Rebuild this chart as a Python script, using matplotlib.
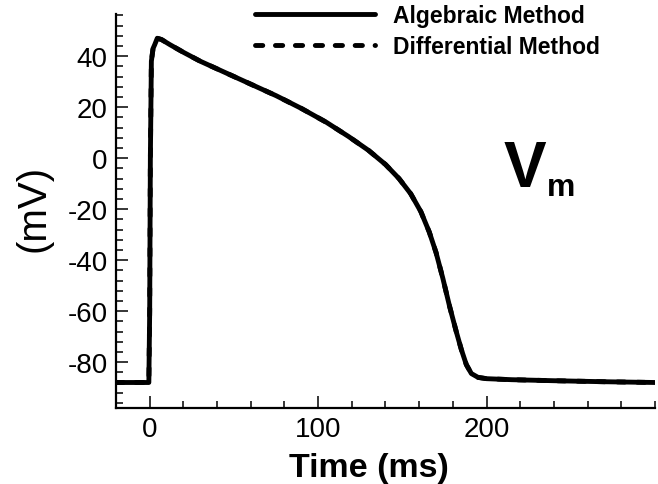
import numpy as np
from matplotlib import pyplot as plt
from matplotlib.ticker import MultipleLocator

# values
time_alg = [-20, -0.5, 0.0, 0.4, 1.0, 2.0, 3.0, 4.5, 7, 12, 20, 30, 45, 60, 75, 90, 105, 118, 130, 140,
            148, 155, 161, 166, 170, 174, 178, 182, 185, 188, 191, 195, 200, 215, 240, 270, 300]
vm_alg = [-88, -88, -60, 0, 38, 43, 44.5, 47, 46.5, 44.5, 41.5, 38, 33.5, 29, 24.5, 19.5, 14, 8.5, 3, -2.5,
          -8, -14, -21, -29, -37, -47, -58, -68, -75, -81, -84.5, -86, -86.5, -86.9, -87.3, -87.7, -88]
time_diff = [-20, -0.5, 0.0, 0.4, 1.0, 2.0, 3.0, 4.5, 7, 12, 20, 30, 45, 60, 75, 90, 105, 118, 130, 140,
             148, 155, 161, 166, 170, 174, 178, 182, 185, 188, 191, 195, 200, 215, 240, 270, 300]
vm_diff = [-88, -88, -60, 0, 38, 43, 44.5, 47, 46.5, 44.5, 41.5, 38, 33.5, 29, 24.5, 19.5, 14, 8.5, 3, -2.5,
           -8, -14, -21, -29, -37, -47, -58, -68, -75, -81, -84.5, -86, -86.5, -86.9, -87.3, -87.7, -88]

x_ticks = [0, 100, 200]
y_ticks = [-80, -60, -40, -20, 0, 20, 40]

plt.rcParams["font.family"] = ["Liberation Sans", "DejaVu Sans"]
plt.rcParams["axes.unicode_minus"] = False

fig = plt.figure(figsize=(6.58, 4.85), dpi=100)
ax = fig.add_axes([0.1763, 0.1567, 0.8191, 0.8123])

ax.plot(time_alg, vm_alg, color="black", linewidth=3.5, solid_joinstyle="round",
        solid_capstyle="round", label="Algebraic Method")
ax.plot(time_diff, vm_diff, color="black", linewidth=3.5, linestyle=(0, (1.5, 2.6)),
        dash_capstyle="round", label="Differential Method")

ax.set_xlim(-20, 300)
ax.set_ylim(-98, 56.5)
ax.set_xticks(x_ticks)
ax.set_yticks(y_ticks)
ax.xaxis.set_minor_locator(MultipleLocator(20))
ax.yaxis.set_minor_locator(MultipleLocator(4))

for side in ["top", "right"]:
    ax.spines[side].set_visible(False)
for side in ["left", "bottom"]:
    ax.spines[side].set_linewidth(1.6)

ax.tick_params(which="major", direction="in", length=8.5, width=1.1, labelsize=20, pad=6)
ax.tick_params(which="minor", direction="in", length=5, width=1.1)

ax.set_xlabel("Time (ms)", fontsize=24.5, fontweight="bold")
ax.xaxis.set_label_coords(0.469, -0.112, transform=ax.transAxes)
ax.set_ylabel("(mV)", fontsize=29)
ax.yaxis.set_label_coords(-0.117, 0.51, transform=ax.transAxes)

ax.text(223, -4.2, "V", fontsize=46, fontweight="bold", ha="center", va="center")
ax.text(236, -14.5, "m", fontsize=23, fontweight="bold", ha="left", va="baseline")

leg = ax.legend(loc="upper right", bbox_to_anchor=(0.943, 1.033), bbox_transform=fig.transFigure,
                frameon=False, handlelength=5.2, handletextpad=0.8, labelspacing=0.38,
                prop={"size": 16.5, "weight": "bold"})

fig.savefig("out.png", dpi=100)
